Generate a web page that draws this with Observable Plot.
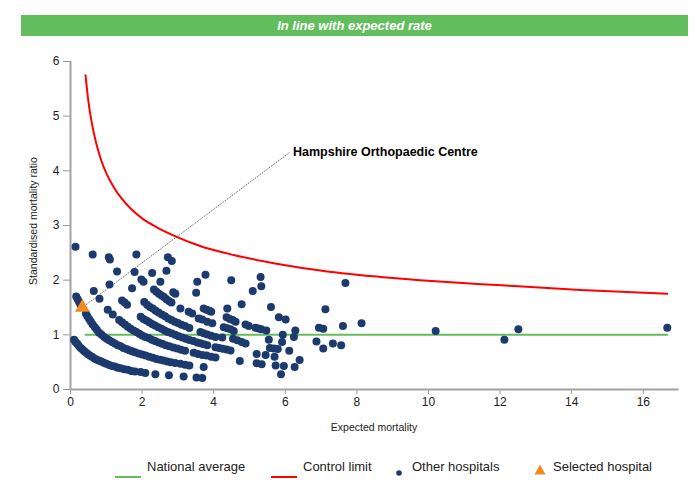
<!DOCTYPE html>
<html>
<head>
<meta charset="utf-8">
<script src="https://cdn.jsdelivr.net/npm/d3@7"></script>
<script src="https://cdn.jsdelivr.net/npm/@observablehq/plot@0.6"></script>
<style>
  body { margin: 0; background: #fff; font-family: "Liberation Sans", Arial, sans-serif; }
  #wrap { position: relative; width: 700px; height: 500px; overflow: hidden; background: #fff; }
  #chart { position: absolute; left: 0; top: 0; }
  #banner { position: absolute; left: 21px; top: 15px; width: 667px; height: 21px; background: #62bd5d;
            color: #fff; font-weight: bold; font-style: italic; font-size: 13px; line-height: 21px; text-align: center; }
  #xlabel { position: absolute; left: 274px; top: 421px; width: 200px; text-align: center; font-size: 10.5px; color: #222; }
  #ylabel { position: absolute; left: 33px; top: 221px; transform: translate(-50%, -50%) rotate(-90deg);
            white-space: nowrap; font-size: 10.5px; color: #222; }
  .lg { position: absolute; top: 459px; font-size: 13px; color: #222; line-height: 16px; white-space: nowrap; }
  .mk { position: absolute; }
</style>
</head>
<body>
<div id="wrap">
  <div id="chart"></div>
  <div id="banner"></div>
  <div id="xlabel"></div>
  <div id="ylabel"></div>
  <div id="legend"></div>
</div>
<script>
// ---- text ----
const titleText = "In line with expected rate";
const xLabel = "Expected mortality";
const yLabel = "Standardised mortality ratio";
const selectedName = "Hampshire Orthopaedic Centre";
const legendLabels = ["National average", "Control limit", "Other hospitals", "Selected hospital"];

// ---- ticks ----
const xTicks = [0, 2, 4, 6, 8, 10, 12, 14, 16];
const yTicks = [0, 1, 2, 3, 4, 5, 6];

// ---- reference lines ----
const nationalAverage = [[0.42, 1], [16.67, 1]];
const controlLimit = [
  [0.42, 5.75], [0.50, 5.27], [0.60, 4.86], [0.72, 4.50], [0.86, 4.19], [1.02, 3.93],
  [1.20, 3.71], [1.42, 3.50], [1.68, 3.31], [2.00, 3.13], [2.40, 2.97], [2.90, 2.81],
  [3.60, 2.63], [4.56, 2.46], [5.68, 2.31], [7.17, 2.16], [8.66, 2.06], [10.20, 1.98],
  [11.92, 1.91], [14.25, 1.82], [16.67, 1.75]
];

// ---- hospitals (expected mortality, SMR) ----
const bandA = [
  [0.10,0.91],[0.14,0.87],[0.18,0.84],[0.22,0.81],[0.27,0.77],[0.32,0.74],[0.37,0.71],[0.42,0.68],
  [0.48,0.65],[0.54,0.62],[0.60,0.60],[0.66,0.57],[0.72,0.55],[0.79,0.53],[0.86,0.51],[0.93,0.49],
  [1.00,0.47],[1.08,0.45],[1.16,0.43],[1.24,0.42],[1.32,0.40],[1.40,0.39],[1.50,0.37],[1.60,0.36],
  [1.70,0.34],[1.80,0.33],[1.96,0.32],[2.09,0.30],[2.37,0.28],[2.75,0.26],[3.16,0.24],[3.52,0.22],[3.68,0.21]
];
const bandB = [
  [0.16,1.70],[0.20,1.65],[0.24,1.60],[0.28,1.55],
  [0.43,1.39],[0.47,1.34],[0.52,1.29],[0.57,1.24],[0.62,1.19],[0.68,1.14],[0.74,1.09],[0.80,1.04],
  [0.87,1.00],[0.94,0.96],[1.01,0.93],[1.08,0.90],[1.16,0.87],[1.24,0.84],[1.32,0.81],[1.40,0.79],
  [1.48,0.76],[1.56,0.74],[1.64,0.72],[1.72,0.70],[1.80,0.68],[1.90,0.66],[2.00,0.64],[2.10,0.62],
  [2.20,0.60],[2.30,0.58],[2.40,0.56],[2.50,0.545],[2.60,0.53],[2.70,0.51],[2.80,0.50],[2.92,0.485],
  [3.07,0.47],[3.20,0.455],[3.32,0.44],[3.72,0.41]
];
const bandC = [
  [0.14,2.61],[0.65,1.80],[0.81,1.66],[1.04,1.46],[1.18,1.37],
  [1.36,1.27],[1.44,1.23],[1.52,1.19],[1.60,1.15],[1.68,1.11],[1.76,1.08],[1.84,1.05],[1.92,1.02],
  [2.00,0.99],[2.09,0.96],[2.18,0.94],[2.27,0.91],[2.36,0.885],[2.46,0.86],[2.56,0.835],[2.66,0.81],
  [2.76,0.79],[2.87,0.77],[2.98,0.75],[3.09,0.725],[3.20,0.71],[3.44,0.67],[3.56,0.65],[3.68,0.63],
  [3.80,0.62],[3.93,0.60],[4.05,0.585],[4.73,0.52],[5.20,0.48],[5.34,0.46],[5.73,0.44],[5.96,0.43],[6.26,0.41]
];
const bandD = [
  [0.62,2.47],[1.09,1.92],[1.44,1.63],[1.51,1.59],[1.58,1.55],
  [1.96,1.33],[2.04,1.29],[2.12,1.26],[2.20,1.23],[2.28,1.20],[2.36,1.17],[2.45,1.14],[2.54,1.11],
  [2.63,1.08],[2.72,1.05],[2.82,1.03],[2.92,1.00],[3.02,0.975],[3.12,0.95],[3.22,0.93],[3.32,0.905],
  [3.43,0.885],[3.54,0.86],[3.63,0.845],[3.72,0.83],[3.82,0.81],[4.05,0.775],[4.15,0.76],[4.25,0.745],
  [4.36,0.73],[4.47,0.715],[5.20,0.65],[5.45,0.63],[5.70,0.60],[6.40,0.54]
];
const bandE = [
  [1.07,2.42],[1.10,2.38],[1.30,2.16],[1.72,1.85],[2.06,1.60],[2.14,1.55],[2.22,1.51],[2.30,1.48],
  [2.38,1.44],[2.46,1.41],[2.55,1.37],[2.64,1.34],[2.73,1.30],[2.82,1.27],[2.91,1.24],[3.00,1.215],
  [3.10,1.185],[3.20,1.16],[3.32,1.125],[3.63,1.05],[3.72,1.03],[3.82,1.005],[3.93,0.985],[4.05,0.96],
  [4.24,0.95],[4.54,0.93],[4.66,0.90],[4.78,0.87],[4.89,0.84],[5.57,0.76],[5.68,0.75],[5.79,0.74],[6.11,0.71]
];
const bandF = [
  [1.79,2.15],[1.98,2.01],[2.04,1.97],[2.33,1.83],[2.40,1.79],[2.47,1.75],[2.54,1.72],[2.61,1.69],
  [2.68,1.65],[2.75,1.62],[2.82,1.59],[3.07,1.48],[3.30,1.42],[3.40,1.39],[3.58,1.30],[3.68,1.28],
  [3.82,1.24],[3.96,1.21],[4.28,1.14],[4.38,1.12],[4.47,1.10],[4.56,1.07],[5.54,0.91],[5.91,0.87]
];
const bandG = [
  [1.84,2.47],[2.28,2.13],[2.51,1.97],[2.87,1.78],[2.93,1.75],[3.72,1.48],[3.80,1.46],[3.88,1.44],
  [3.93,1.42],[4.36,1.32],[4.45,1.29],[4.53,1.27],[4.61,1.24],[4.89,1.19],[4.98,1.16],[5.17,1.13],
  [5.25,1.115],[5.33,1.10],[5.47,1.08]
];
const scattered = [
  [2.68,2.17],[2.72,2.42],[2.83,2.35],[3.54,1.97],[3.51,1.77],[3.77,2.10],[4.49,2.00],[5.31,2.06],
  [5.33,1.89],[5.09,1.80],[4.78,1.56],[5.60,1.51],[4.38,1.48],[5.82,1.32],[6.01,1.28],[7.12,1.47],
  [7.68,1.95],[7.61,1.16],[8.13,1.21],[7.33,0.84],[7.56,0.81],[10.20,1.07],[12.12,0.91],[12.51,1.10],
  [16.67,1.13],[5.93,1.00],[6.28,1.08],[6.24,0.96],[6.94,1.13],[7.06,1.11],[6.87,0.88],[7.06,0.75],[5.88,0.28]
];
const selectedHospital = [[0.33, 1.50]];
const labelAnchorPoint = [[6.13, 4.34]];

// ---- colours ----
const navy = "#1c3a6e", red = "#ff0000", green = "#66bb5c", orange = "#f28a1e";

const toObj = ([x, y]) => ({x, y});
const others = [...bandA, ...bandB, ...bandC, ...bandD, ...bandE, ...bandF, ...bandG, ...scattered].map(toObj);
const selected = selectedHospital.map(toObj);
const leader = [{x1: selectedHospital[0][0], y1: selectedHospital[0][1], x2: labelAnchorPoint[0][0], y2: labelAnchorPoint[0][1]}];
const labelData = [{x: labelAnchorPoint[0][0], y: labelAnchorPoint[0][1], text: selectedName}];

const chart = Plot.plot({
  width: 700,
  height: 445,
  marginTop: 61,
  marginBottom: 56,
  marginLeft: 70,
  marginRight: 21.4,
  x: {domain: [0, 17], label: null},
  y: {domain: [0, 6], label: null},
  style: {fontFamily: "'Liberation Sans', Arial, sans-serif", fontSize: "12px", color: "#222", background: "transparent"},
  marks: [
    Plot.axisX({ticks: xTicks, tickFormat: "d", tickSize: 5, tickPadding: 3, stroke: "#999", label: null, fontSize: 12}),
    Plot.axisY({ticks: yTicks, tickFormat: "d", tickSize: 7, tickPadding: 4, stroke: "#999", label: null, fontSize: 12}),
    Plot.ruleY([0], {stroke: "#a3a3a3", strokeWidth: 2}),
    Plot.ruleX([0], {stroke: "#a3a3a3", strokeWidth: 2}),
    Plot.line(nationalAverage.map(toObj), {x: "x", y: "y", stroke: green, strokeWidth: 2}),
    Plot.line(controlLimit.map(toObj), {x: "x", y: "y", stroke: red, strokeWidth: 2, curve: "monotone-x"}),
    Plot.link(leader, {x1: "x1", y1: "y1", x2: "x2", y2: "y2", stroke: "#333", strokeWidth: 0.8, strokeDasharray: "1.2,1"}),
    Plot.dot(others, {x: "x", y: "y", r: 4, fill: navy}),
    Plot.dot(selected, {x: "x", y: "y", r: 5.5, symbol: "triangle", fill: orange}),
    Plot.text(labelData, {x: "x", y: "y", text: "text", textAnchor: "start", dx: 3, fontWeight: "bold", fontSize: 12.5, fill: "#000"})
  ]
});
document.getElementById("chart").appendChild(chart);
document.getElementById("banner").textContent = titleText;
document.getElementById("xlabel").textContent = xLabel;
document.getElementById("ylabel").textContent = yLabel;

// ---- legend ----
const legend = document.getElementById("legend");
const legendItems = [
  {marker: `<svg width="26" height="4"><line x1="0" y1="2" x2="26" y2="2" stroke="${green}" stroke-width="2"/></svg>`, mx: 115, my: 465, tx: 147},
  {marker: `<svg width="26" height="4"><line x1="0" y1="2" x2="26" y2="2" stroke="${red}" stroke-width="2"/></svg>`, mx: 271, my: 465, tx: 303},
  {marker: `<svg width="8" height="8"><circle cx="4" cy="4" r="2.8" fill="${navy}"/></svg>`, mx: 395, my: 463, tx: 412},
  {marker: `<svg width="12" height="11"><path d="M6 0.5 L11.5 10.5 L0.5 10.5 Z" fill="${orange}"/></svg>`, mx: 534, my: 461, tx: 553}
];
legendItems.forEach((it, i) => {
  const m = document.createElement("div");
  m.className = "mk"; m.style.left = it.mx + "px"; m.style.top = it.my + "px";
  m.innerHTML = it.marker;
  legend.appendChild(m);
  const t = document.createElement("div");
  t.className = "lg"; t.style.left = it.tx + "px";
  t.textContent = legendLabels[i];
  legend.appendChild(t);
});
</script>
</body>
</html>
